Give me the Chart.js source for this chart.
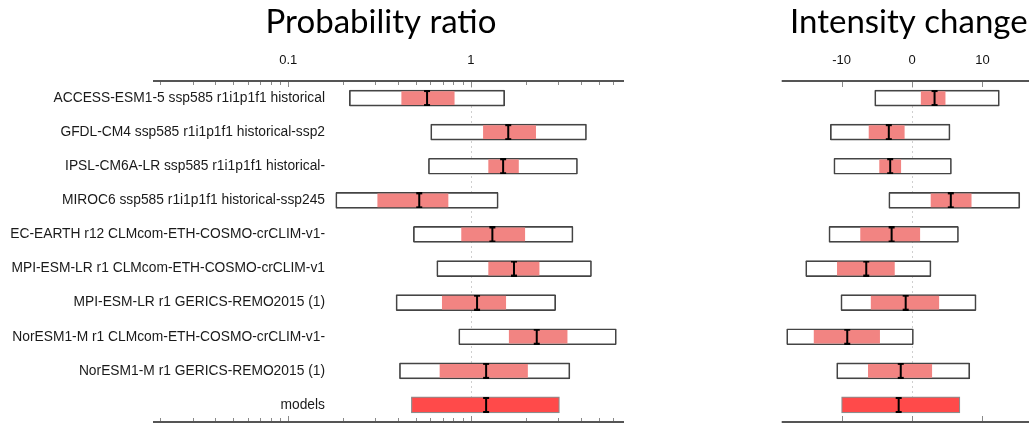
<!DOCTYPE html>
<html>
<head>
<meta charset="utf-8">
<script src="https://cdn.jsdelivr.net/npm/chart.js@4"></script>
<style>
  html, body { margin: 0; padding: 0; background: #fff; overflow: hidden; width: 1029px; height: 427px; }
  canvas { position: absolute; top: 0; }
  #prChart { left: 0; }
  #icChart { left: 660px; }
</style>
</head>
<body>
<canvas id="prChart" width="762" height="427"></canvas>
<canvas id="icChart" width="400" height="427"></canvas>
<script>
// model names (rows, top to bottom)
const categories = [
  'ACCESS-ESM1-5 ssp585 r1i1p1f1 historical',
  'GFDL-CM4 ssp585 r1i1p1f1 historical-ssp2',
  'IPSL-CM6A-LR ssp585 r1i1p1f1 historical-',
  'MIROC6 ssp585 r1i1p1f1 historical-ssp245',
  'EC-EARTH r12 CLMcom-ETH-COSMO-crCLIM-v1-',
  'MPI-ESM-LR r1 CLMcom-ETH-COSMO-crCLIM-v1',
  'MPI-ESM-LR r1 GERICS-REMO2015 (1)',
  'NorESM1-M r1 CLMcom-ETH-COSMO-crCLIM-v1-',
  'NorESM1-M r1 GERICS-REMO2015 (1)',
  'models'
];

// probability ratio
const prOuter = [[0.216, 1.53], [0.602, 4.29], [0.585, 3.83], [0.182, 1.41], [0.484, 3.62],
                 [0.650, 4.57], [0.389, 2.91], [0.857, 6.25], [0.406, 3.48], null];
const prInner = [[0.418, 0.81], [1.17, 2.26], [1.25, 1.82], [0.309, 0.749], [0.889, 1.97],
                 [1.25, 2.36], [0.697, 1.55], [1.62, 3.36], [0.677, 2.04], null];
const prModels = [0.472, 3.05];
const prBest = [0.575, 1.60, 1.50, 0.521, 1.31, 1.72, 1.08, 2.29, 1.21, 1.21];
const prTicks = [0.1, 1];

// intensity change
const icOuter = [[-5.3, 12.4], [-11.6, 5.4], [-11.1, 5.6], [-3.3, 15.3], [-11.8, 6.6],
                 [-15.1, 2.7], [-10.1, 9.1], [-17.8, 0.2], [-10.7, 8.2], null];
const icInner = [[1.3, 4.7], [-6.1, -1.1], [-4.6, -1.6], [2.7, 8.4], [-7.3, 1.1],
                 [-10.6, -2.5], [-5.8, 3.8], [-13.9, -4.6], [-6.2, 2.8], null];
const icModels = [-10.0, 6.8];
const icBest = [3.2, -3.3, -3.1, 5.5, -2.9, -6.5, -0.9, -9.2, -1.6, -1.9];
const icTicks = [-10, 0, 10];

const labelFont = '"Liberation Sans", Arial, sans-serif';
const labelSize = 13.8;

// "I" shaped marker for the central estimate
const marker = document.createElement('canvas');
marker.width = 8;
marker.height = 16;
(function () {
  const c = marker.getContext('2d');
  c.strokeStyle = '#000';
  c.lineWidth = 2;
  c.beginPath();
  c.moveTo(4, 0.5); c.lineTo(4, 15.5);
  c.moveTo(1, 1); c.lineTo(7, 1);
  c.moveTo(1, 15); c.lineTo(7, 15);
  c.stroke();
})();

// widest row label, so the mirrored labels can be right aligned
const measure = document.createElement('canvas').getContext('2d');
measure.font = labelSize + 'px ' + labelFont;
const widest = Math.max(...categories.map(c => measure.measureText(c).width));

// axis lines with inward ticks on top and bottom, dotted reference line
const framePlugin = {
  id: 'frame',
  beforeDatasetsDraw(chart, args, opts) {
    const a = chart.chartArea, x = chart.scales.x, ctx = chart.ctx;
    const px = Math.round(x.getPixelForValue(opts.ref)) + 0.5;
    ctx.save();
    ctx.strokeStyle = '#cfcfcf';
    ctx.lineWidth = 1;
    ctx.setLineDash([2, 3]);
    ctx.beginPath();
    ctx.moveTo(px, a.top);
    ctx.lineTo(px, a.bottom);
    ctx.stroke();
    ctx.restore();
  },
  afterDraw(chart, args, opts) {
    const a = chart.chartArea, x = chart.scales.x, ctx = chart.ctx;
    ctx.save();
    ctx.strokeStyle = '#8a8a8a';
    ctx.lineWidth = 1;
    const tick = (v, len) => {
      const px = Math.round(x.getPixelForValue(v)) + 0.5;
      ctx.beginPath();
      ctx.moveTo(px, a.top); ctx.lineTo(px, a.top + len);
      ctx.moveTo(px, a.bottom); ctx.lineTo(px, a.bottom - len);
      ctx.stroke();
    };
    opts.minor.forEach(v => tick(v, 4));
    opts.major.forEach(v => tick(v, 6));
    ctx.strokeStyle = '#555';
    ctx.lineWidth = 1.8;
    ctx.beginPath();
    ctx.moveTo(a.left, a.top); ctx.lineTo(a.right, a.top);
    ctx.moveTo(a.left, a.bottom); ctx.lineTo(a.right, a.bottom);
    ctx.stroke();
    ctx.restore();
  }
};

function makeChart(id, cfg) {
  const last = categories.length - 1;
  const scales = {
    x: {
      type: cfg.type,
      position: 'top',
      min: cfg.min,
      max: cfg.max,
      grid: { display: false, drawTicks: false },
      border: { display: false },
      afterBuildTicks: s => { s.ticks = cfg.ticks.map(v => ({ value: v })); },
      afterFit: s => { s.height = 38.4; },
      ticks: {
        color: '#111',
        padding: 13,
        font: { family: labelFont, size: 13 },
        callback: v => String(v)
      }
    },
    y: {
      type: 'category',
      display: cfg.showLabels,
      grid: { display: false, drawTicks: false },
      border: { display: false },
      afterFit: s => { s.width = cfg.showLabels ? 153 : 0; },
      ticks: {
        color: '#1a1a1a',
        mirror: true,
        crossAlign: 'far',
        padding: 172 - widest,
        font: { family: labelFont, size: labelSize }
      }
    }
  };
  if (cfg.rightGap) {
    // empty margin on the right so the title sits where it does in the figure
    scales.gap = {
      type: 'category',
      position: 'right',
      grid: { display: false, drawTicks: false },
      border: { display: false },
      ticks: { display: false },
      afterFit: s => { s.width = cfg.rightGap; }
    };
  }
  return new Chart(document.getElementById(id), {
    type: 'bar',
    data: {
      labels: categories,
      datasets: [{
        type: 'line',
        label: 'best',
        indexAxis: 'y',
        data: cfg.best.map((v, i) => ({ x: v, y: categories[i] })),
        showLine: false,
        pointStyle: marker,
        order: 0
      }, {
        label: 'likely',
        data: cfg.inner,
        backgroundColor: '#f28482',
        borderWidth: 0,
        barThickness: 13,
        grouped: false,
        order: 1
      }, {
        label: 'pooled',
        data: categories.map((c, i) => i === last ? cfg.models : null),
        backgroundColor: '#ff4a4a',
        borderColor: '#8c8c8c',
        borderWidth: 1.2,
        borderSkipped: false,
        barThickness: 16,
        grouped: false,
        order: 1
      }, {
        label: 'range',
        data: cfg.outer,
        backgroundColor: '#fff',
        borderColor: '#444',
        borderWidth: 1.7,
        borderSkipped: false,
        borderRadius: 1,
        barThickness: 16,
        grouped: false,
        order: 2
      }]
    },
    options: {
      responsive: false,
      animation: false,
      events: [],
      indexAxis: 'y',
      layout: { padding: cfg.padding },
      plugins: {
        legend: { display: false },
        tooltip: { enabled: false },
        title: {
          display: true,
          text: cfg.title,
          fullSize: cfg.titleFull,
          color: '#000',
          font: { family: 'Lato, "Open Sans", sans-serif', size: 33, weight: 'normal', lineHeight: 1.2 },
          padding: { top: 3, bottom: 0 }
        },
        frame: { ref: cfg.ref, major: cfg.ticks, minor: cfg.minor }
      },
      scales: scales
    },
    plugins: [framePlugin]
  });
}

// minor ticks of the log axis: 2..9 in each decade
const prMinor = [];
[0.01, 0.1, 1].forEach(d => {
  for (let k = 2; k <= 9; k++) {
    const v = d * k;
    if (v > 0.0182 && v < 6.88) prMinor.push(v);
  }
});

makeChart('prChart', {
  title: 'Probability ratio',
  titleFull: true,
  rightGap: 138,
  type: 'logarithmic',
  min: 0.0182, max: 6.88,
  ref: 1,
  ticks: prTicks,
  minor: prMinor,
  outer: prOuter, inner: prInner, models: prModels, best: prBest,
  showLabels: true,
  padding: { left: 0, right: 0, top: 0, bottom: 4 }
});

makeChart('icChart', {
  title: 'Intensity change',
  titleFull: false,
  type: 'linear',
  min: -18.5, max: 17.6,
  ref: 0,
  ticks: icTicks,
  minor: [],
  outer: icOuter, inner: icInner, models: icModels, best: icBest,
  showLabels: false,
  padding: { left: 121.7, right: 24, top: 0, bottom: 4 }
});
</script>
</body>
</html>
